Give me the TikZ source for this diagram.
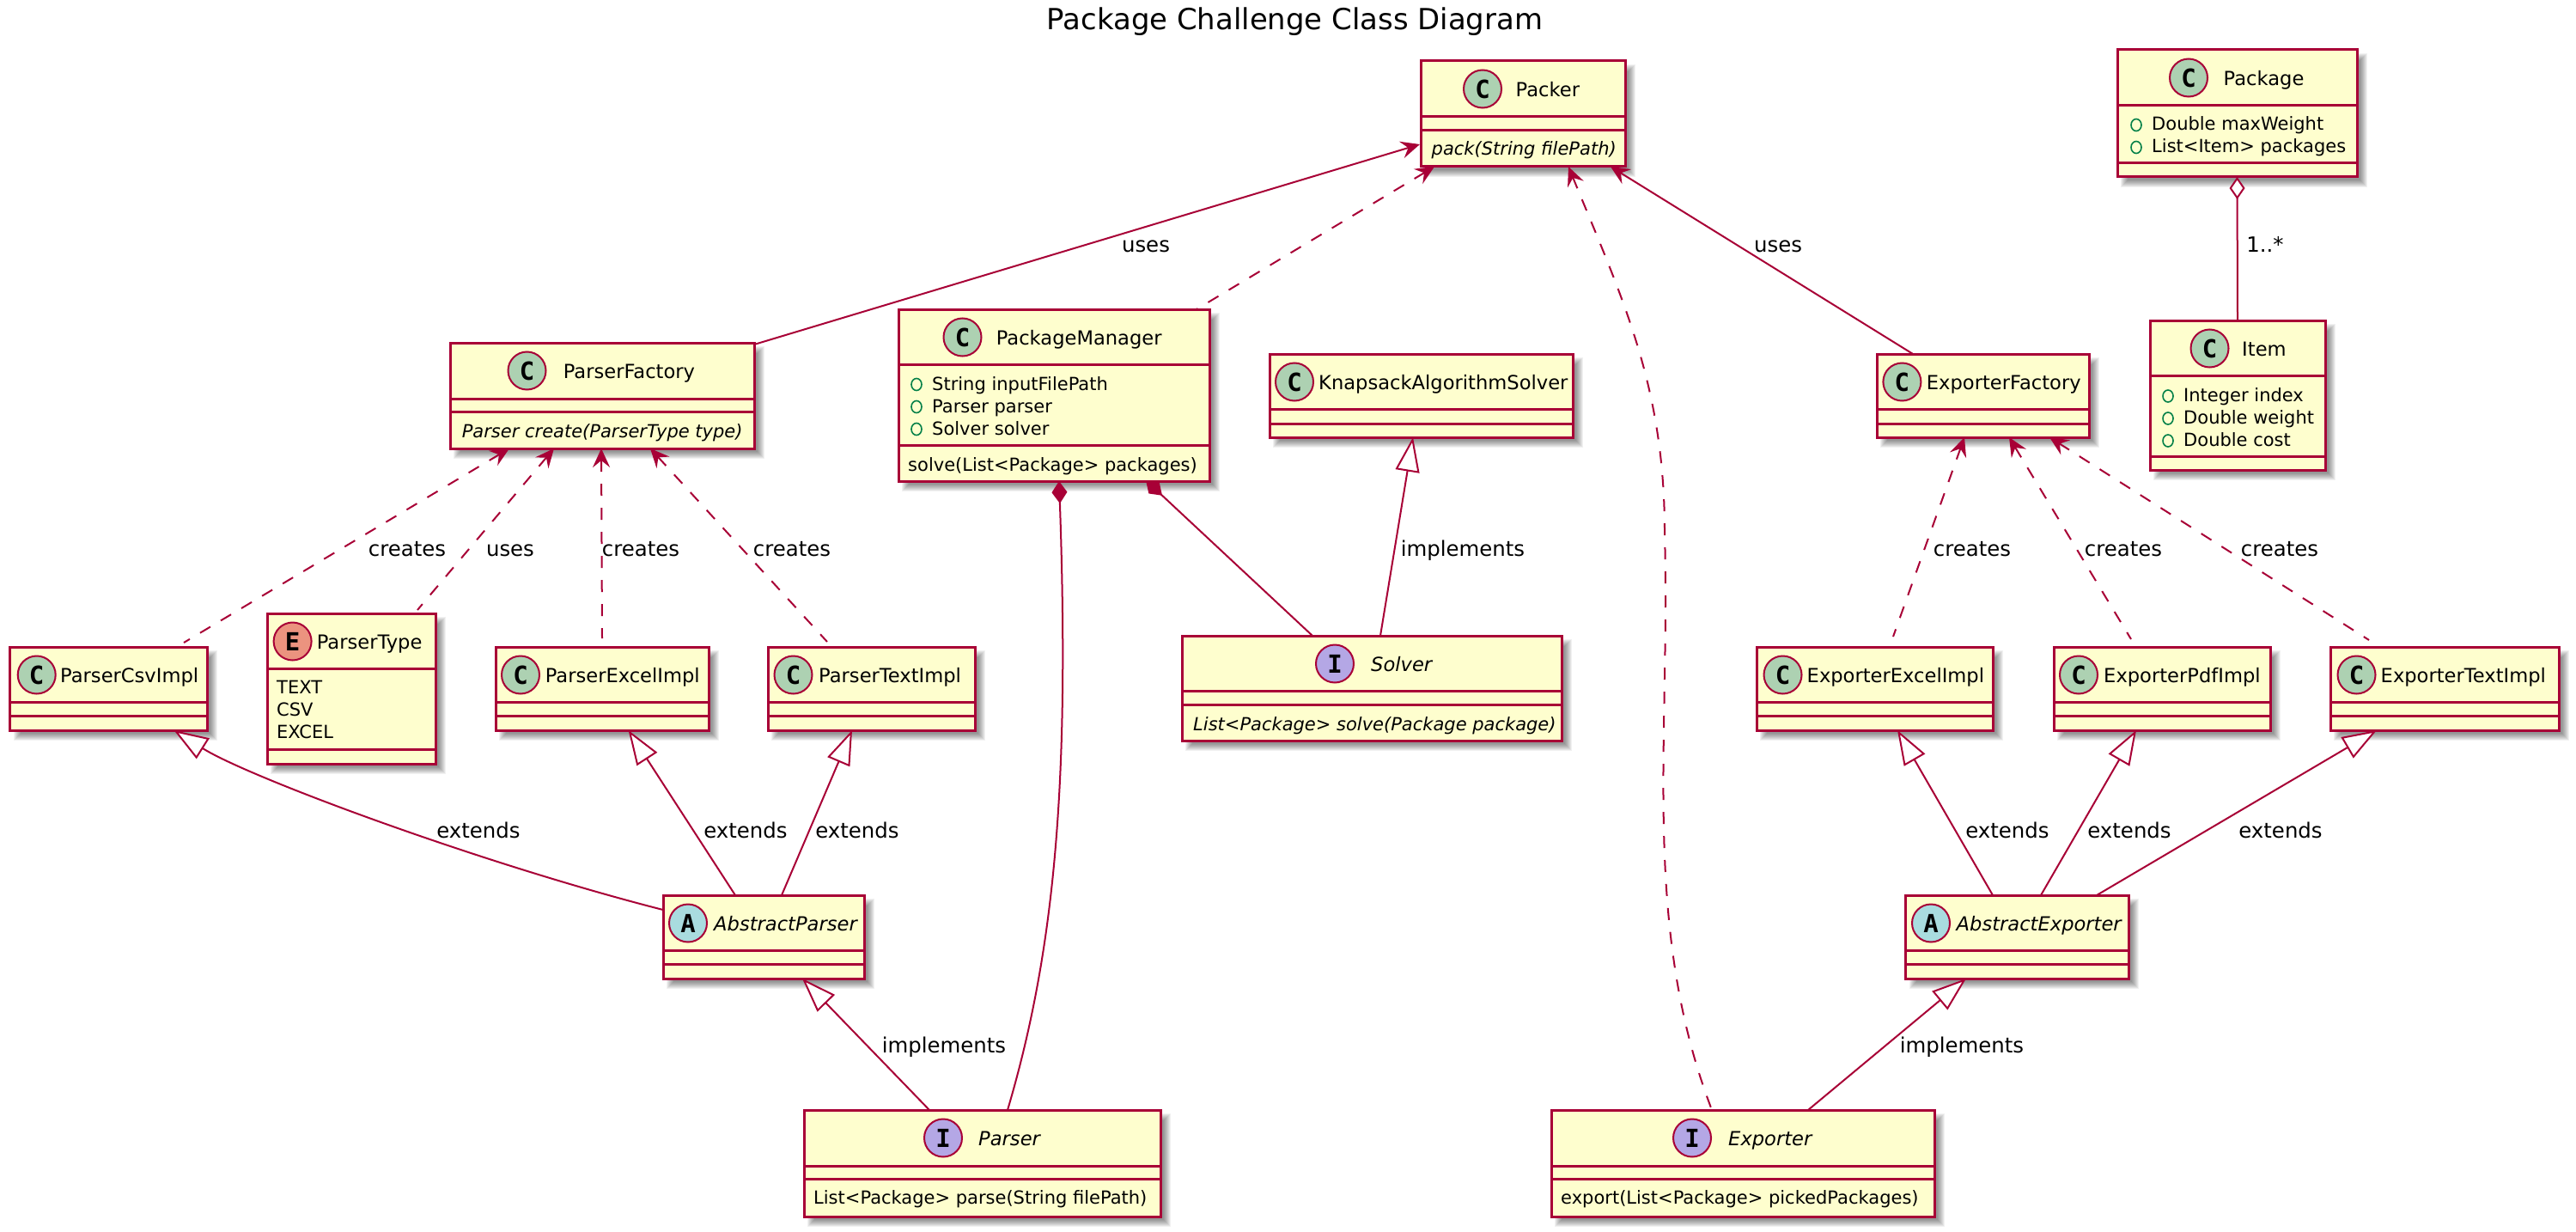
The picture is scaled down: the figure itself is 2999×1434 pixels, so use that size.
\documentclass[tikz,border=0pt]{standalone}
\usepackage{fontspec}
\setmainfont{DejaVu Sans}
\newfontfamily\spotfont{DejaVu Sans Mono}
\usetikzlibrary{arrows.meta,calc}
\definecolor{umlred}{HTML}{A80036}
\definecolor{umlfill}{HTML}{FEFECE}
\definecolor{spotC}{HTML}{ADD1B2}
\definecolor{spotA}{HTML}{A9DCDF}
\definecolor{spotI}{HTML}{B4A7E5}
\definecolor{spotE}{HTML}{EB937F}
\definecolor{visgreen}{HTML}{038048}
\tikzset{
 classbox/.style={rectangle,draw=umlred,fill=umlfill,line width=3pt,inner sep=0pt,outer sep=0pt},
 sepline/.style={draw=umlred,line width=3pt},
 spotnode/.style={circle,draw=umlred,line width=2pt,minimum size=44pt,inner sep=0pt,font=\spotfont\bfseries\fontsize{29}{30}\selectfont},
 namefont/.style={anchor=base west,inner sep=0pt,font=\fontsize{22.6}{26}\selectfont},
 memfont/.style={anchor=base west,inner sep=0pt,font=\fontsize{21}{24}\selectfont},
 lab/.style={anchor=base,inner sep=0pt,font=\fontsize{24.4}{28}\selectfont},
 conn/.style={draw=umlred,line width=2pt},
 dash14/.style={dash pattern=on 14pt off 14pt},
 openhead/.style={{Stealth[length=22pt,width=20pt,inset=8pt]}-},
 trihead/.style={{Triangle[length=40pt,width=28pt,fill=white]}-},
 solidd/.style={{Diamond[length=26pt,width=18pt,fill=umlred]}-},
 hollowd/.style={{Diamond[length=26pt,width=18pt,fill=white]}-},
}
% name, x0,y0,x1,y1, first separator, second separator
\newcommand{\umlbox}[7]{%
 \foreach \d in {-4,...,4}{\fill[black,opacity=.055] (#2+8-\d,#3+8-\d) rectangle (#4+8+\d,#5+8+\d);}
 \node[classbox,minimum width={(#4-#2)*1pt},minimum height={(#5-#3)*1pt}] (#1) at ({(#2+#4)/2},{(#3+#5)/2}) {};
 \draw[sepline] (#2,#6) -- (#4,#6);
 \draw[sepline] (#2,#7) -- (#4,#7);
}
% box-name, letter, spot colour, spot x, text x, y-top, text
\newcommand{\umlhead}[7]{%
 \node[spotnode,fill=#3] (#1-spot) at (#4,#6+32.5) {#2};
 \node[namefont] (#1-name) at (#5,#6+41.6) {#7};
}
% node-name, circle x, text x, baseline, text
\newcommand{\umlfield}[5]{%
 \draw[visgreen,line width=1.6pt] (#2,#4-6.5) ellipse (6 and 7);
 \node[memfont] (#1) at (#3,#4) {#5};
}
\newcommand{\umltext}[4]{\node[memfont] (#1) at (#2,#3) {#4};}
\newcommand{\umllab}[4]{\node[lab] (#1) at (#2,#3) {#4};}
\begin{document}
\begin{tikzpicture}[x=1pt,y=-1pt]
\useasboundingbox (0,0) rectangle (2999,1434);
\fill[white] (0,0) rectangle (2999,1434);
\node[anchor=base,inner sep=0pt,font=\fontsize{33.9}{38}\selectfont] (title) at (1507.5,34.7) {Package Challenge Class Diagram};

\umlbox{packer}{1654}{71}{1892}{194}{136}{152}
\umlhead{packer}{C}{spotC}{1726}{1764.5}{71}{Packer}
\umltext{packerm}{1666.5}{180.5}{\itshape pack(String filePath)}

\umlbox{package}{2465}{58}{2744}{206}{122.5}{190}
\umlhead{package}{C}{spotC}{2548}{2588.5}{58}{Package}
\umlfield{packagef1}{2487}{2505}{152}{Double maxWeight}
\umlfield{packagef2}{2487}{2505}{178}{List<Item> packages}

\umlbox{item}{2503}{373}{2707}{547}{437.5}{531}
\umlhead{item}{C}{spotC}{2572.5}{2610}{373}{Item}
\umlfield{itemf1}{2524}{2542}{467.5}{Integer index}
\umlfield{itemf2}{2524}{2542}{493.5}{Double weight}
\umlfield{itemf3}{2524}{2542}{519.5}{Double cost}

\umlbox{pf}{524}{399}{878}{522}{464}{479}
\umlhead{pf}{C}{spotC}{613.5}{655.6}{399}{ParserFactory}
\umltext{pfm}{537.6}{509}{\itshape Parser create(ParserType type)}

\umlbox{pm}{1046}{360}{1408}{560}{424}{518}
\umlhead{pm}{C}{spotC}{1120.5}{1159.6}{360}{PackageManager}
\umlfield{pmf1}{1067}{1085}{454}{String inputFilePath}
\umlfield{pmf2}{1067}{1085}{480}{Parser parser}
\umlfield{pmf3}{1067}{1085}{506}{Solver solver}
\umltext{pmm}{1057}{548}{solve(List<Package> packages)}

\umlbox{kas}{1478}{412}{1831}{509}{476}{493}
\umlhead{kas}{C}{spotC}{1507}{1535}{412}{KnapsackAlgorithmSolver}

\umlbox{ef}{2185}{412}{2432}{509}{476}{493}
\umlhead{ef}{C}{spotC}{2214.4}{2242.7}{412}{ExporterFactory}

\umlbox{csv}{11.5}{753}{241}{850}{817}{833}
\umlhead{csv}{C}{spotC}{42.7}{70}{753}{ParserCsvImpl}

\umlbox{ptype}{311}{714}{507}{889}{778}{872}
\umlhead{ptype}{E}{spotE}{340.6}{368.6}{714}{ParserType}
\umltext{ptype1}{322}{807}{TEXT}
\umltext{ptype2}{322}{833}{CSV}
\umltext{ptype3}{322}{859}{EXCEL}

\umlbox{pexcel}{577}{753}{825}{850}{817}{833}
\umlhead{pexcel}{C}{spotC}{606}{634.6}{753}{ParserExcelImpl}

\umlbox{ptext}{894}{753}{1135}{850}{817}{833}
\umlhead{ptext}{C}{spotC}{923.5}{953}{753}{ParserTextImpl}

\umlbox{solver}{1376}{740}{1818}{862}{804}{820}
\umlhead{solver}{I}{spotI}{1554}{1596}{740}{\itshape Solver}
\umltext{solverm}{1389}{850}{\itshape List<Package> solve(Package package)}

\umlbox{eexcel}{2045}{753}{2320}{850}{817}{833}
\umlhead{eexcel}{C}{spotC}{2075.5}{2103.5}{753}{ExporterExcelImpl}

\umlbox{epdf}{2391}{753}{2643}{850}{817}{833}
\umlhead{epdf}{C}{spotC}{2420}{2449}{753}{ExporterPdfImpl}

\umlbox{etext}{2713}{753}{2979}{850}{817}{833}
\umlhead{etext}{C}{spotC}{2743.5}{2771.5}{753}{ExporterTextImpl}

\umlbox{ap}{772}{1042}{1006}{1139}{1106}{1122}
\umlhead{ap}{A}{spotA}{801}{831}{1042}{\itshape AbstractParser}

\umlbox{ae}{2218.5}{1042}{2478}{1139}{1106}{1122}
\umlhead{ae}{A}{spotA}{2248}{2277.5}{1042}{\itshape AbstractExporter}

\umlbox{parser}{936}{1292}{1351}{1416}{1357}{1372}
\umlhead{parser}{I}{spotI}{1098}{1139}{1292}{\itshape Parser}
\umltext{parserm}{947}{1401.7}{List<Package> parse(String filePath)}

\umlbox{exporter}{1806}{1292}{2252}{1416}{1357}{1372}
\umlhead{exporter}{I}{spotI}{1970}{2012}{1292}{\itshape Exporter}
\umltext{exporterm}{1817}{1401.7}{export(List<Package> pickedPackages)}

% connectors
\draw[conn,openhead] ($(packer.south west)+(-1,-26)$) -- ($(pf.north east)+(0,2)$);
\draw[conn,openhead,dash14] ($(packer.south west)+(16,0)$) -- ($(pm.north east)+(-15,0)$);
\coordinate (expmid) at (1938,620);
\draw[conn,openhead,dash14] ($(packer.south west)+(172,0)$) .. controls (1890,350) and (1938,450) .. (expmid) .. controls (1945,860) and (1910,1076) .. ($(exporter.north west)+(187,0)$);
\draw[conn,openhead] ($(packer.south west)+(221,0)$) -- ($(ef.north west)+(42,0)$);
\draw[conn,hollowd] (package.south) -- (item.north);

\draw[conn,openhead,dash14] ($(pf.south west)+(69,0)$) -- ($(csv.north west)+(202.5,-5)$);
\draw[conn,openhead,dash14] ($(pf.south west)+(121,0)$) -- ($(ptype.north west)+(175,-4)$);
\draw[conn,openhead,dash14] ($(pf.south west)+(176,0)$) -- ($(pexcel.north)+(0,-10)$);
\draw[conn,openhead,dash14] ($(pf.south west)+(233,0)$) -- ($(ptext.north west)+(69,-6)$);

\draw[conn,trihead] ($(csv.south west)+(191,0)$) .. controls (290,905) and (560,1005) .. ($(ap.north west)+(0,17)$);
\draw[conn,trihead] ($(pexcel.south west)+(154.6,0)$) -- ($(ap.north west)+(84,0)$);
\draw[conn,trihead] ($(ptext.south west)+(98,0)$) -- ($(ap.north west)+(138,0)$);
\draw[conn,trihead] ($(ap.south west)+(162,0)$) -- ($(parser.north west)+(146,0)$);

\draw[conn,solidd] ($(pm.south west)+(187,0)$) .. controls (1245,900) and (1230,1100) .. ($(parser.north west)+(237,0)$);
\draw[conn,solidd] ($(pm.south west)+(288,-1)$) -- ($(solver.north west)+(152,0)$);
\draw[conn,trihead] ($(kas.south west)+(167,0)$) -- ($(solver.north west)+(231,0)$);

\draw[conn,openhead,dash14] ($(ef.south west)+(102,0)$) -- ($(eexcel.north west)+(159,-12)$);
\draw[conn,openhead,dash14] ($(ef.south west)+(154,0)$) -- ($(epdf.north west)+(90,-9)$);
\draw[conn,openhead,dash14] ($(ef.south west)+(201,0)$) -- ($(etext.north west)+(45,-8)$);

\draw[conn,trihead] ($(eexcel.south west)+(164,0)$) -- ($(ae.north west)+(101.5,0)$);
\draw[conn,trihead] ($(epdf.south west)+(96,0)$) -- ($(ae.north west)+(157.5,0)$);
\draw[conn,trihead] ($(etext.south west)+(54,0)$) -- ($(ae.north west)+(222.5,0)$);
\draw[conn,trihead] ($(ae.south west)+(70.5,0)$) -- ($(exporter.north west)+(299,0)$);

% labels
\umllab{l1}{1334}{293}{uses}
\umllab{l2}{2070}{293}{uses}
\umllab{l3}{2637}{293.5}{1..*}
\umllab{l4}{474}{647}{creates}
\umllab{l5}{594}{647}{uses}
\umllab{l6}{746}{647}{creates}
\umllab{l7}{922}{647}{creates}
\umllab{l8}{1703}{647}{implements}
\umllab{l9}{2296}{647}{creates}
\umllab{l10}{2472}{647}{creates}
\umllab{l11}{2654}{647}{creates}
\umllab{l12}{557}{975}{extends}
\umllab{l13}{868}{975}{extends}
\umllab{l14}{998}{975}{extends}
\umllab{l15}{2337}{975}{extends}
\umllab{l16}{2479}{975}{extends}
\umllab{l17}{2655}{975}{extends}
\umllab{l18}{1099}{1225}{implements}
\umllab{l19}{2284}{1225}{implements}
\end{tikzpicture}
\end{document}
